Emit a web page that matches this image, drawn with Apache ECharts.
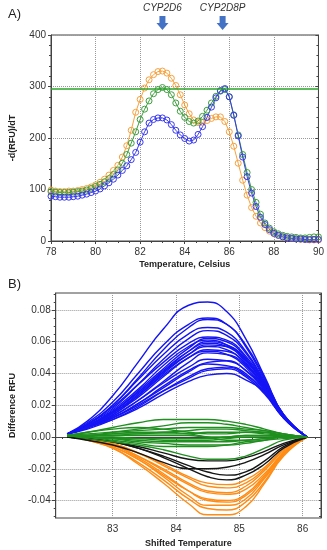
<!DOCTYPE html>
<html><head><meta charset="utf-8">
<script src="https://cdn.jsdelivr.net/npm/echarts@6/dist/echarts.min.js"></script>
<style>html,body{margin:0;padding:0;background:#fff}#c{width:327px;height:550px}</style>
</head><body><div id="c"></div>
<script>
// ---------- Panel A data ----------
const tempsA = [78.0,78.2,78.4,78.6,78.8,79.0,79.2,79.4,79.6,79.8,80.0,80.2,80.4,80.6,80.8,81.0,81.2,81.4,81.6,81.8,82.0,82.2,82.4,82.6,82.8,83.0,83.2,83.4,83.6,83.8,84.0,84.2,84.4,84.6,84.8,85.0,85.2,85.4,85.6,85.8,86.0,86.2,86.4,86.6,86.8,87.0,87.2,87.4,87.6,87.8,88.0,88.2,88.4,88.6,88.8,89.0,89.2,89.4,89.6,89.8,90.0];
const orangeA = [99,97,96,96,97,97,98,100,102,105,109,114,120,128,137,147,163,185,215,250,275,297,313,323,329,330,326,316,302,284,264,247,235,230,230,234,238,241,241,232,212,184,151,118,89,65,48,35,26,19,14,11,8,6,5,4,3,3,2,2,2];
const greenA = [96,95,94,94,94,95,96,97,99,102,106,110,115,121,129,138,151,168,190,212,236,256,272,286,294,298,294,284,268,252,240,232,229,233,242,254,268,281,291,294,280,245,206,168,133,100,75,52,35,25,18,14,11,9,8,7,6,6,7,8,8];
const blueA = [87,86,85,85,85,86,87,89,91,94,97,101,107,113,120,128,137,146,158,172,192,212,229,236,239,239,235,226,215,206,199,194,196,207,222,240,260,278,292,296,280,244,204,163,125,93,67,46,32,22,15,11,8,6,5,4,4,3,3,3,3];
const thresholdA = 295;
const xTicksA = [78,80,82,84,86,88,90];
const yTicksA = [0,100,200,300,400];
const arrowTemps = [83.0, 85.7];
const arrowLabels = ['CYP2D6','CYP2D8P'];

// ---------- Panel B data ----------
const xB = [82.28,82.6,83.0,83.4,83.8,84.2,84.5,84.8,85.1,85.4,85.7,86.07];
const blueB = [
 [0.002,0.010,0.026,0.047,0.068,0.083,0.085,0.079,0.062,0.038,0.014,0],
 [0.002,0.009,0.022,0.040,0.058,0.071,0.075,0.071,0.058,0.037,0.014,0],
 [0.002,0.008,0.020,0.037,0.055,0.069,0.074,0.071,0.057,0.036,0.014,0],
 [0.002,0.008,0.020,0.036,0.052,0.065,0.069,0.066,0.054,0.035,0.014,0],
 [0.002,0.008,0.018,0.033,0.049,0.062,0.067,0.064,0.053,0.034,0.013,0],
 [0.002,0.008,0.019,0.033,0.047,0.059,0.063,0.061,0.051,0.034,0.014,0],
 [0.002,0.007,0.016,0.029,0.043,0.056,0.062,0.060,0.050,0.033,0.013,0],
 [0.002,0.007,0.017,0.030,0.045,0.057,0.061,0.058,0.049,0.032,0.013,0],
 [0.002,0.007,0.015,0.027,0.041,0.054,0.060,0.058,0.049,0.033,0.013,0],
 [0.002,0.007,0.016,0.028,0.042,0.054,0.059,0.057,0.047,0.031,0.013,0],
 [0.002,0.006,0.014,0.026,0.040,0.052,0.058,0.057,0.048,0.032,0.013,0],
 [0.002,0.007,0.016,0.028,0.041,0.052,0.057,0.055,0.046,0.031,0.013,0],
 [0.002,0.006,0.014,0.025,0.038,0.050,0.055,0.054,0.046,0.031,0.013,0],
 [0.002,0.006,0.015,0.026,0.039,0.050,0.054,0.052,0.044,0.030,0.012,0],
 [0.002,0.006,0.013,0.023,0.035,0.047,0.053,0.052,0.045,0.031,0.013,0],
 [0.002,0.006,0.013,0.023,0.034,0.044,0.049,0.048,0.042,0.029,0.012,0],
 [0.002,0.006,0.012,0.021,0.032,0.042,0.047,0.048,0.042,0.030,0.013,0],
 [0.002,0.006,0.012,0.021,0.031,0.041,0.046,0.045,0.040,0.028,0.012,0],
 [0.002,0.005,0.011,0.019,0.029,0.038,0.043,0.044,0.039,0.028,0.012,0],
 [0.002,0.006,0.012,0.020,0.029,0.037,0.042,0.043,0.038,0.027,0.012,0],
 [0.002,0.006,0.011,0.018,0.027,0.035,0.039,0.040,0.036,0.028,0.013,0]
];
const greenB = [
 [0.001,0.003,0.006,0.009,0.011,0.011,0.011,0.010,0.008,0.005,0.002,0],
 [0.001,0.002,0.003,0.004,0.005,0.006,0.006,0.006,0.005,0.004,0.002,0],
 [0.001,0.003,0.005,0.006,0.005,0.003,0.002,0.002,0.003,0.003,0.001,0],
 [0.001,0.001,0.002,0.002,0.003,0.004,0.005,0.005,0.004,0.003,0.001,0],
 [0.001,0.001,0.001,0.002,0.002,0.002,0.003,0.003,0.003,0.002,0.001,0],
 [0.001,0.001,0.001,0.001,0.001,0.001,0.000,0.000,0.001,0.001,0.001,0],
 [0.001,0.000,0.000,-0.001,-0.001,-0.001,-0.001,0.000,0.001,0.001,0.000,0],
 [0.001,0.000,-0.001,-0.001,-0.002,-0.002,-0.002,-0.001,0.000,0.000,0.000,0],
 [0.001,0.000,-0.001,-0.002,-0.003,-0.003,-0.003,-0.003,-0.002,-0.001,0.000,0],
 [0.001,0.001,0.002,0.003,0.003,0.002,0.000,-0.002,-0.002,-0.001,0.000,0],
 [0.001,0.000,-0.001,-0.003,-0.004,-0.005,-0.005,-0.005,-0.004,-0.002,-0.001,0],
 [0.001,0.000,-0.002,-0.004,-0.006,-0.006,-0.006,-0.005,-0.003,-0.002,0.000,0],
 [0.001,-0.001,-0.003,-0.005,-0.008,-0.012,-0.014,-0.014,-0.012,-0.007,-0.002,0],
 [0.001,0.001,0.003,0.005,0.007,0.009,0.009,0.008,0.006,0.004,0.002,0]
];
const blackB = [
 [0,-0.001,-0.003,-0.006,-0.010,-0.014,-0.015,-0.015,-0.013,-0.009,-0.004,0],
 [0,-0.002,-0.005,-0.010,-0.016,-0.020,-0.020,-0.019,-0.016,-0.011,-0.005,0],
 [0,-0.001,-0.003,-0.007,-0.012,-0.018,-0.022,-0.024,-0.022,-0.015,-0.006,0],
 [0,-0.001,-0.003,-0.007,-0.013,-0.020,-0.025,-0.027,-0.024,-0.017,-0.007,0]
];
const orangeB = [
 [0.001,-0.002,-0.007,-0.017,-0.029,-0.042,-0.049,-0.049,-0.044,-0.029,-0.012,0],
 [0.001,-0.002,-0.007,-0.016,-0.027,-0.039,-0.045,-0.046,-0.041,-0.028,-0.011,0],
 [0.001,-0.001,-0.006,-0.014,-0.025,-0.037,-0.043,-0.043,-0.039,-0.026,-0.011,0],
 [0.001,-0.001,-0.005,-0.013,-0.023,-0.034,-0.040,-0.041,-0.037,-0.025,-0.010,0],
 [0.001,-0.002,-0.006,-0.014,-0.024,-0.034,-0.039,-0.040,-0.036,-0.024,-0.010,0],
 [0.001,-0.001,-0.005,-0.012,-0.021,-0.030,-0.035,-0.036,-0.033,-0.023,-0.010,0],
 [0.001,-0.001,-0.005,-0.012,-0.020,-0.029,-0.034,-0.035,-0.031,-0.021,-0.009,0],
 [0.001,-0.001,-0.004,-0.010,-0.018,-0.026,-0.031,-0.032,-0.029,-0.020,-0.008,0],
 [0.001,-0.001,-0.004,-0.010,-0.017,-0.025,-0.029,-0.030,-0.027,-0.019,-0.008,0]
];
const xRangeB = [82.1, 86.29];
const yRangeB = [-0.051, 0.0907];
const xTicksB = [83,84,85,86];
const yTicksB = [-0.04,-0.02,0.00,0.02,0.04,0.06,0.08];
const xMinorB = [82.2,82.4,82.6,82.8,83.2,83.4,83.6,83.8,84.2,84.4,84.6,84.8,85.2,85.4,85.6,85.8,86.2];
const yMinorB = [-0.05,-0.045,-0.035,-0.03,-0.025,-0.015,-0.01,-0.005,0.005,0.01,0.015,0.025,0.03,0.035,0.045,0.05,0.055,0.065,0.07,0.075,0.085,0.09];

// ---------- chart ----------
const FONT = '"Liberation Sans", Arial, sans-serif';
const TXT = '#333';
const FRAME = '#444';
const chart = echarts.init(document.getElementById('c'));

const gridA = {left:46, top:35, width:275, height:206, show:true, borderColor:FRAME, borderWidth:1};
const gridB = {left:46, top:293, width:275, height:225, show:true, borderColor:FRAME, borderWidth:1};

const lblStyle = {fontFamily:FONT, fontSize:10, color:TXT};
const nameStyle = {fontFamily:FONT, fontSize:9, fontWeight:'bold', color:'#222'};
const dotted = {show:true, lineStyle:{type:'dotted', color:'#999', width:1}};

const xAxes = [
 {type:'value', gridIndex:0, position:'bottom', min:xTicksA[0], max:xTicksA[xTicksA.length-1], interval:2,
  axisLine:{lineStyle:{color:FRAME}}, axisTick:{inside:false, length:3, lineStyle:{color:FRAME}},
  minorTick:{show:true, splitNumber:4, length:2, lineStyle:{color:FRAME}},
  axisLabel:Object.assign({margin:6}, lblStyle), splitLine:dotted,
  name:'Temperature, Celsius', nameLocation:'middle', nameGap:19, nameTextStyle:nameStyle},
 {type:'value', gridIndex:0, position:'top', min:xTicksA[0], max:xTicksA[xTicksA.length-1], interval:2,
  axisLine:{lineStyle:{color:FRAME}}, axisTick:{inside:true, length:3, lineStyle:{color:FRAME}},
  minorTick:{show:true, splitNumber:4, length:2, lineStyle:{color:FRAME}},
  axisLabel:{show:false}, splitLine:{show:false}},
 {type:'value', gridIndex:1, position:'bottom', min:xRangeB[0], max:xRangeB[1],
  axisLine:{lineStyle:{color:FRAME}}, axisTick:{inside:false, length:4, customValues:xTicksB, lineStyle:{color:FRAME}},
  axisLabel:Object.assign({customValues:xTicksB, margin:6, formatter:v=>String(Math.round(v))}, lblStyle), splitLine:dotted,
  name:'Shifted Temperature', nameLocation:'middle', nameGap:21, nameTextStyle:nameStyle},
 {type:'value', gridIndex:1, position:'bottom', min:xRangeB[0], max:xRangeB[1],
  axisLine:{show:false}, axisTick:{inside:false, length:2, customValues:xMinorB, lineStyle:{color:FRAME}},
  axisLabel:{show:false}, splitLine:{show:false}},
 {type:'value', gridIndex:1, position:'top', min:xRangeB[0], max:xRangeB[1],
  axisLine:{lineStyle:{color:FRAME}}, axisTick:{inside:true, length:2, customValues:xMinorB.concat(xTicksB), lineStyle:{color:FRAME}},
  axisLabel:{show:false}, splitLine:{show:false}}
];
const yAxes = [
 {type:'value', gridIndex:0, position:'left', min:yTicksA[0], max:yTicksA[yTicksA.length-1], interval:100,
  axisLine:{show:true, lineStyle:{color:FRAME}}, axisTick:{show:true, inside:false, length:3, lineStyle:{color:FRAME}},
  minorTick:{show:true, splitNumber:5, length:2, lineStyle:{color:FRAME}},
  axisLabel:Object.assign({margin:5}, lblStyle), splitLine:dotted,
  name:'-d(RFU)/dT', nameLocation:'middle', nameGap:34, nameTextStyle:nameStyle},
 {type:'value', gridIndex:0, position:'right', min:yTicksA[0], max:yTicksA[yTicksA.length-1], interval:100,
  axisLine:{show:true, lineStyle:{color:FRAME}}, axisTick:{show:true, inside:true, length:3, lineStyle:{color:FRAME}},
  minorTick:{show:true, splitNumber:5, length:2, lineStyle:{color:FRAME}},
  axisLabel:{show:false}, splitLine:{show:false}},
 {type:'value', gridIndex:1, position:'left', min:yRangeB[0], max:yRangeB[1],
  axisLine:{show:true, lineStyle:{color:FRAME}}, axisTick:{show:true, inside:false, length:4, customValues:yTicksB, lineStyle:{color:FRAME}},
  axisLabel:Object.assign({customValues:yTicksB, margin:5, formatter:v=>v.toFixed(2)}, lblStyle), splitLine:dotted,
  name:'Difference RFU', nameLocation:'middle', nameGap:36, nameTextStyle:nameStyle},
 {type:'value', gridIndex:1, position:'left', min:yRangeB[0], max:yRangeB[1],
  axisLine:{show:false}, axisTick:{show:true, inside:false, length:2, customValues:yMinorB, lineStyle:{color:FRAME}},
  axisLabel:{show:false}, splitLine:{show:false}},
 {type:'value', gridIndex:1, position:'right', min:yRangeB[0], max:yRangeB[1],
  axisLine:{show:true, lineStyle:{color:FRAME}}, axisTick:{show:true, inside:true, length:2, customValues:yMinorB.concat(yTicksB), lineStyle:{color:FRAME}},
  axisLabel:{show:false}, splitLine:{show:false}}
];

const series = [];
function melt(vals, color, extra){
  const s = {type:'line', xAxisIndex:0, yAxisIndex:0, data:tempsA.map((t,i)=>[t, vals[i]]),
    symbol:'circle', symbolSize:6, showSymbol:true,
    lineStyle:{color:color, width:1}, itemStyle:{color:'rgba(255,255,255,0)', borderColor:color, borderWidth:1},
    z:3, animation:false};
  return Object.assign(s, extra||{});
}
series.push(melt(orangeA, '#f5a23f'));
series.push(melt(greenA, '#3f9f3f', {
  markLine:{silent:true, symbol:'none', label:{show:false}, lineStyle:{color:'#28a428', width:1.6, type:'solid'},
    data:[{yAxis:thresholdA}]},
}));
series.push(melt(blueA, '#3838ee', {
  markPoint:{silent:true, symbol:'path://M3,0L9,0L9,7L12,7L6,14L0,7L3,7Z', symbolSize:[12,14], symbolOffset:[0,-12],
    itemStyle:{color:'#4472c4', borderWidth:0},
    label:{show:true, position:'top', distance:3, formatter:p=>p.name, fontFamily:FONT, fontSize:10, fontStyle:'italic', color:'#333'},
    data:arrowTemps.map((t,i)=>({name:arrowLabels[i], coord:[t, yTicksA[yTicksA.length-1]]}))}
}));

function diffLine(vals, color){
  return {type:'line', xAxisIndex:2, yAxisIndex:2, data:xB.map((x,i)=>[x, vals[i]]),
    smooth:0.5, symbol:'none', lineStyle:{color:color, width:1.4}, z:3, animation:false};
}
blueB.forEach(v=>series.push(diffLine(v, '#1414f5')));
orangeB.forEach(v=>series.push(diffLine(v, '#ff8c14')));
blackB.forEach(v=>series.push(diffLine(v, '#151515')));
greenB.forEach(v=>series.push(diffLine(v, '#1f8f1f')));

chart.setOption({
  backgroundColor:'#fff',
  animation:false,
  title:[
    {text:'A)', left:3, top:3, textStyle:{fontFamily:FONT, fontSize:13, fontWeight:'normal', color:'#222'}},
    {text:'B)', left:3, top:273, textStyle:{fontFamily:FONT, fontSize:13, fontWeight:'normal', color:'#222'}}
  ],
  grid:[gridA, gridB],
  xAxis:xAxes,
  yAxis:yAxes,
  series:series
});
</script></body></html>
